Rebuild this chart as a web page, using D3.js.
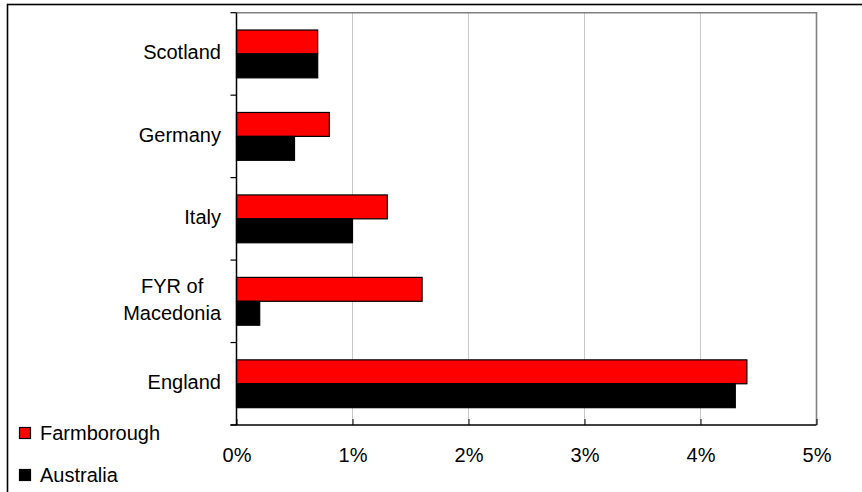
<!DOCTYPE html>
<html>
<head>
<meta charset="utf-8">
<script src="https://cdn.jsdelivr.net/npm/d3@7"></script>
<style>
  html, body { margin: 0; padding: 0; background: #fff; }
  svg { display: block; }
  text { font-family: "Liberation Sans", Arial, sans-serif; fill: #000; }
</style>
</head>
<body>
<svg id="chart" width="862" height="492"></svg>
<script>
const categories = ["Scotland", "Germany", "Italy", "FYR of Macedonia", "England"];
const farmborough = [0.007, 0.008, 0.013, 0.016, 0.044];
const australia = [0.007, 0.005, 0.010, 0.002, 0.043];
const xTicks = [0, 0.01, 0.02, 0.03, 0.04, 0.05];
const seriesNames = ["Farmborough", "Australia"];
const seriesColors = ["#ff0000", "#000000"];

(function () {
const svg = d3.select("#chart");
const W = 862, H = 492;
const pLeft = 236.5, pRight = 816.5, pTop = 12.7, pBottom = 425;

// outer frame
svg.append("rect").attr("x", 7.5).attr("y", 4.5).attr("width", W + 20).attr("height", H + 20)
  .attr("fill", "none").attr("stroke", "#000").attr("stroke-width", 1.6);

const x = d3.scaleLinear().domain([0, 0.05]).range([pLeft, pRight]);
const y = d3.scaleBand().domain(categories).range([pTop, pBottom]).padding(0);

// gridlines
svg.append("g").selectAll("line").data(xTicks.slice(1, -1)).join("line")
  .attr("x1", d => x(d)).attr("x2", d => x(d)).attr("y1", pTop).attr("y2", pBottom)
  .attr("stroke", "#c8c8c8").attr("stroke-width", 1);

// plot border top & right
svg.append("path")
  .attr("d", `M${pLeft},${pTop}H${pRight}V${pBottom}`)
  .attr("fill", "none").attr("stroke", "#808080").attr("stroke-width", 1.6);

// bars
const data = categories.map((c, i) => ({ c, f: farmborough[i], a: australia[i] }));
const bw = y.bandwidth();
const g = svg.append("g");
g.selectAll("rect.f").data(data).join("rect").attr("class", "f")
  .attr("x", x(0)).attr("y", d => y(d.c) + 0.21 * bw)
  .attr("width", d => x(d.f) - x(0)).attr("height", 0.29 * bw)
  .attr("fill", seriesColors[0]).attr("stroke", "#000").attr("stroke-width", 1.2);
g.selectAll("rect.a").data(data).join("rect").attr("class", "a")
  .attr("x", x(0)).attr("y", d => y(d.c) + 0.5 * bw)
  .attr("width", d => x(d.a) - x(0)).attr("height", 0.29 * bw)
  .attr("fill", seriesColors[1]).attr("stroke", "#000").attr("stroke-width", 1.2);

// bottom axis
const xAxis = d3.axisBottom(x).tickValues(xTicks).tickSize(-6).tickFormat(d3.format(".0%")).tickSizeOuter(0);
const gx = svg.append("g").attr("transform", `translate(0,${pBottom})`).call(xAxis);
gx.select(".domain").remove();
gx.selectAll(".tick line").attr("stroke", "#000").attr("stroke-width", 1);
gx.selectAll(".tick text").attr("font-size", 20).attr("y", 36.5).attr("dy", 0)
  .attr("font-family", "Liberation Sans, Arial, sans-serif");
svg.append("line").attr("x1", pLeft - 6).attr("x2", pRight).attr("y1", pBottom).attr("y2", pBottom)
  .attr("stroke", "#000").attr("stroke-width", 1.5);

// left axis with ticks at band boundaries
const boundaries = categories.map(c => y(c)).concat([pBottom]);
svg.append("g").selectAll("line").data(boundaries).join("line")
  .attr("x1", pLeft - 6).attr("x2", pLeft).attr("y1", d => d).attr("y2", d => d)
  .attr("stroke", "#000").attr("stroke-width", 1.2);
svg.append("line").attr("x1", pLeft).attr("x2", pLeft).attr("y1", pTop).attr("y2", pBottom)
  .attr("stroke", "#000").attr("stroke-width", 1.5);

// category labels (wrapped)
const labelRight = 221, maxW = 110, lineH = 27;
categories.forEach(c => {
  const t = svg.append("text").attr("font-size", 20).attr("text-anchor", "middle");
  const words = c.split(" ");
  const lines = [];
  let cur = [];
  const probe = svg.append("text").attr("font-size", 20);
  words.forEach(w => {
    const test = cur.concat([w]).join(" ");
    probe.text(test);
    if (probe.node().getComputedTextLength() > maxW && cur.length) {
      lines.push(cur.join(" ")); cur = [w];
    } else cur.push(w);
  });
  lines.push(cur.join(" "));
  let widest = 0;
  lines.forEach(l => { probe.text(l); widest = Math.max(widest, probe.node().getComputedTextLength()); });
  probe.remove();
  const cx = labelRight - widest / 2;
  const cy = y(c) + bw / 2;
  const firstBase = cy + 5.5 - (lines.length - 1) * lineH / 2;
  lines.forEach((l, i) => {
    t.append("tspan").attr("x", cx).attr("y", firstBase + i * lineH).text(l);
  });
});

// legend
const legY = [427.5, 469.5];
seriesNames.forEach((n, i) => {
  svg.append("rect").attr("x", 19.5).attr("y", legY[i]).attr("width", 11).attr("height", 11)
    .attr("fill", seriesColors[i]).attr("stroke", "#000").attr("stroke-width", 1.2);
  svg.append("text").attr("x", 40).attr("y", legY[i] + 12.5).attr("font-size", 20).text(n);
});
})();
</script>
</body>
</html>
